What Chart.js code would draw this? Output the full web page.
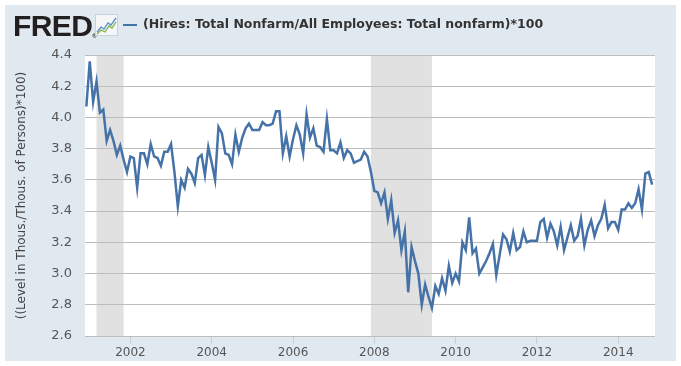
<!DOCTYPE html>
<html>
<head>
<meta charset="utf-8">
<script src="https://cdn.jsdelivr.net/npm/chart.js@4.4.1/dist/chart.umd.min.js"></script>
<style>
  body { margin: 0; background: #fff; }
  #frame { position: absolute; left: 5px; top: 5px; width: 671px; height: 356px; background: #e1e9f0; }
  #chart { position: absolute; left: 0; top: 0; }
  #logo { position: absolute; left: 8px; top: 4px; font: bold 30px "Liberation Sans", Arial, sans-serif; letter-spacing: -0.6px; color: #231f20; }
  #logo sup { font-size: 6px; letter-spacing: 0; vertical-align: -2px; }
  #icon { position: absolute; left: 90px; top: 9px; width: 23px; height: 22px; }
  #legendLine { position: absolute; left: 118px; top: 19px; width: 14px; height: 2px; background: #4572a7; }
  #legendText { position: absolute; left: 138px; top: 11px; font: bold 12.5px "DejaVu Sans", sans-serif; color: #333; white-space: nowrap; }
</style>
</head>
<body>
<div id="frame">
  <canvas id="chart" width="671" height="356"></canvas>
  <div id="logo">FRED<sup>®</sup></div>
  <svg id="icon" viewBox="0 0 23 22">
    <rect x="0.5" y="0.5" width="22" height="21" fill="#f4f6f8" stroke="#c9d3dc"/>
    <polyline points="2,18 6,13 9,15 13,9 16,11 21,4" fill="none" stroke="#5b8fc7" stroke-width="1.3"/>
    <polyline points="2,20 6,16 10,18 14,12 17,14 21,8" fill="none" stroke="#7cb342" stroke-width="1.3"/>
  </svg>
  <div id="legendLine"></div>
  <div id="legendText">(Hires: Total Nonfarm/All Employees: Total nonfarm)*100</div>
</div>
<script>
// monthly observations, Dec 2000 .. Nov 2014
const startYear = 2000;
const startMonth = 12;
const hires = [
  4.07, 4.36, 4.10, 4.23, 4.03, 4.05, 3.85, 3.92, 3.85, 3.76, 3.82, 3.73,
  3.65, 3.75, 3.74, 3.55, 3.77, 3.77, 3.70, 3.83, 3.75, 3.74, 3.69, 3.78,
  3.78, 3.83, 3.65, 3.43, 3.60, 3.55, 3.67, 3.64, 3.58, 3.74, 3.76, 3.63,
  3.81, 3.71, 3.60, 3.94, 3.90, 3.77, 3.76, 3.70, 3.89, 3.78, 3.87, 3.93,
  3.96, 3.92, 3.92, 3.92, 3.97, 3.95, 3.95, 3.96, 4.04, 4.04, 3.77, 3.88,
  3.75, 3.86, 3.95, 3.89, 3.77, 4.02, 3.87, 3.93, 3.82, 3.81, 3.78, 3.99,
  3.79, 3.79, 3.77, 3.84, 3.74, 3.79, 3.77, 3.71, 3.72, 3.73, 3.78, 3.75,
  3.65, 3.53, 3.52, 3.45, 3.52, 3.35, 3.47, 3.26, 3.34, 3.15, 3.27, 2.88,
  3.17, 3.08, 3.00, 2.80, 2.93, 2.85, 2.78, 2.92, 2.87, 2.97, 2.89, 3.05,
  2.94, 3.00, 2.95, 3.20, 3.15, 3.36, 3.13, 3.16, 3.00, 3.04, 3.08, 3.13,
  3.19, 2.99, 3.12, 3.25, 3.22, 3.14, 3.26, 3.15, 3.17, 3.27, 3.20, 3.21,
  3.21, 3.21, 3.33, 3.35, 3.23, 3.32, 3.27, 3.18, 3.30, 3.15, 3.23, 3.31,
  3.21, 3.24, 3.35, 3.18, 3.28, 3.34, 3.24, 3.31, 3.35, 3.44, 3.29, 3.33,
  3.33, 3.28, 3.41, 3.41, 3.45, 3.42, 3.45, 3.54, 3.41, 3.64, 3.65, 3.57
];
const yearTicks = [2002, 2004, 2006, 2008, 2010, 2012, 2014];
const valueTicks = [2.6, 2.8, 3.0, 3.2, 3.4, 3.6, 3.8, 4.0, 4.2, 4.4];
// recessions as [year, month] of peak and trough
const recessions = [[[2001, 3], [2001, 11]], [[2007, 12], [2009, 6]]];

function toYear(y, m) { return y + (m - 1) / 12; }

const points = hires.map((v, i) => ({ x: toYear(startYear, startMonth) + i / 12, y: v }));

const shading = {
  id: 'shading',
  beforeDraw(chart) {
    const ctx = chart.ctx, a = chart.chartArea, xs = chart.scales.x;
    ctx.save();
    ctx.fillStyle = '#ffffff';
    ctx.fillRect(a.left, a.top, a.right - a.left, a.bottom - a.top);
    ctx.fillStyle = '#e1e1e1';
    recessions.forEach(r => {
      const x1 = xs.getPixelForValue(toYear(r[0][0], r[0][1]));
      const x2 = xs.getPixelForValue(toYear(r[1][0], r[1][1]));
      ctx.fillRect(x1, a.top, x2 - x1, a.bottom - a.top);
    });
    ctx.restore();
  }
};

var hiresChart = new Chart(document.getElementById('chart'), {
  type: 'line',
  data: {
    datasets: [{
      label: '(Hires: Total Nonfarm/All Employees: Total nonfarm)*100',
      data: points,
      borderColor: '#4572a7',
      borderWidth: 2.5,
      pointRadius: 0,
      tension: 0
    }]
  },
  options: {
    responsive: false,
    animation: false,
    layout: { padding: { top: 50, right: 21, bottom: 0, left: 0 } },
    plugins: { legend: { display: false }, tooltip: { enabled: false } },
    scales: {
      x: {
        type: 'linear',
        min: toYear(startYear, startMonth) - 0.4 / 12,
        max: toYear(startYear, startMonth) + (hires.length - 1 + 0.85) / 12,
        afterBuildTicks: s => { s.ticks = yearTicks.map(v => ({ value: v })); },
        afterFit: s => { s.height = 25; },
        border: { display: false },
        grid: { drawOnChartArea: false, drawTicks: true, tickLength: 8, color: '#c3d0dc' },
        ticks: { padding: 2, color: '#555', font: { family: 'DejaVu Sans', size: 12 }, callback: v => String(v), maxRotation: 0 }
      },
      y: {
        min: 2.6,
        max: 4.4,
        afterBuildTicks: s => { s.ticks = valueTicks.map(v => ({ value: v })); },
        afterFit: s => { s.width = 80; },
        border: { display: false },
        grid: { color: '#bdbdbd', drawTicks: false },
        ticks: { padding: 13, color: '#555', font: { family: 'DejaVu Sans', size: 13 }, callback: v => v.toFixed(1) },
        title: {
          display: true,
          text: '((Level in Thous./Thous. of Persons)*100)',
          color: '#444',
          font: { family: 'DejaVu Sans', size: 12 },
          padding: { top: 10, bottom: 0 }
        }
      }
    }
  },
  plugins: [shading]
});
</script>
</body>
</html>
